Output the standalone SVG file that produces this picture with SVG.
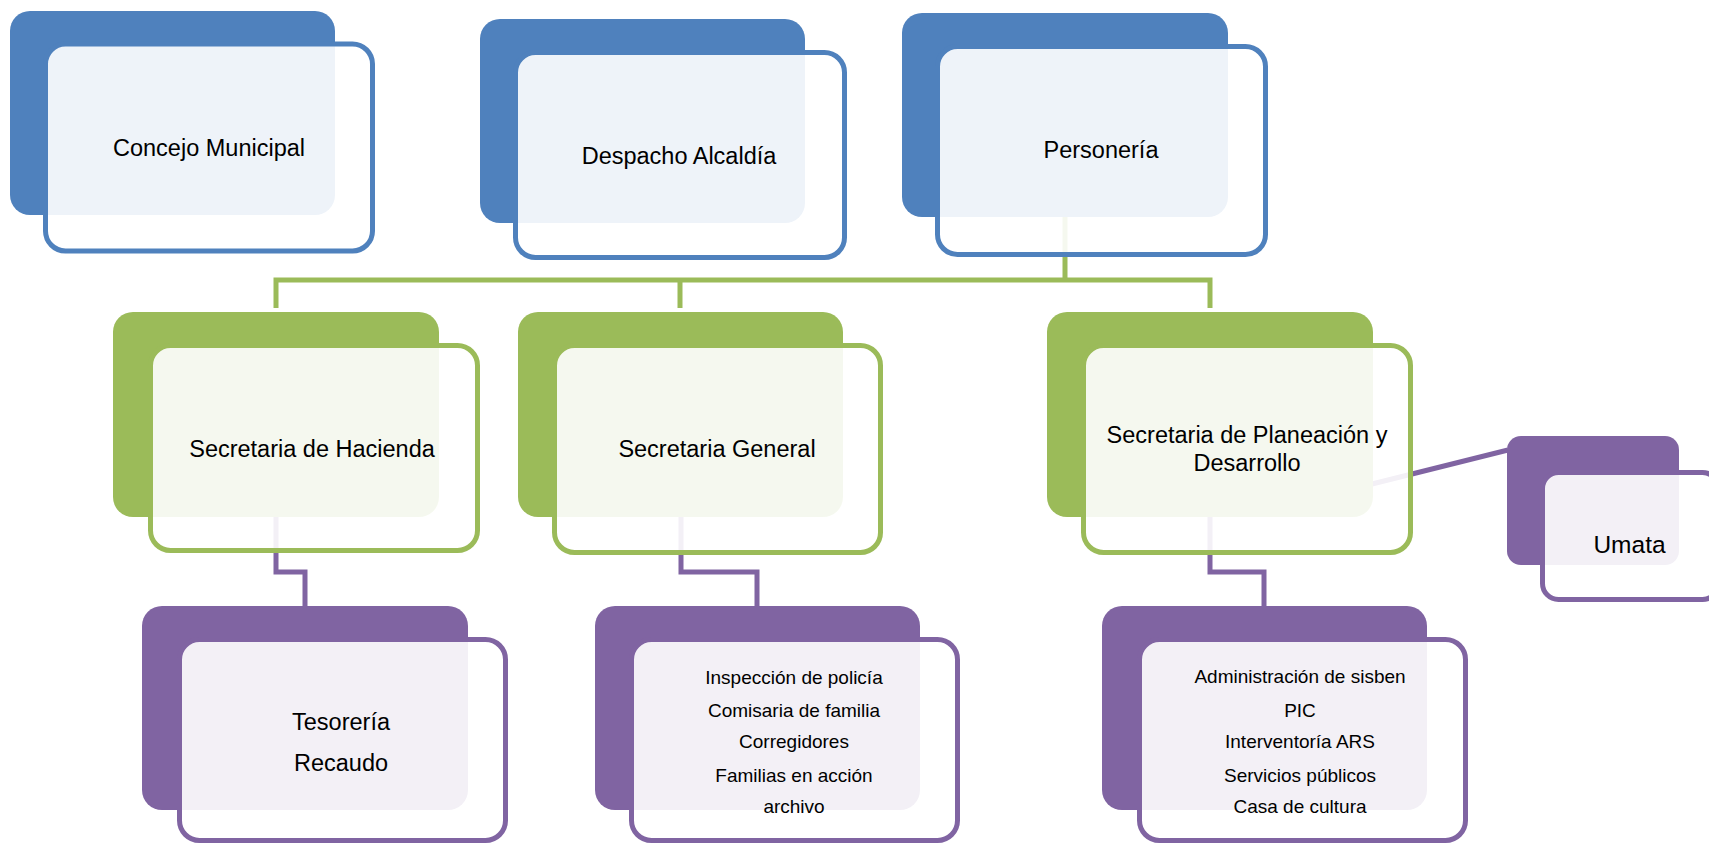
<svg xmlns="http://www.w3.org/2000/svg" width="1709" height="845" viewBox="0 0 1709 845">
<style>
.bb{fill:#4F81BD}.bg{fill:#9BBB59}.bp{fill:#8064A2}
.fr{fill:#FFFFFF;fill-opacity:0.9;stroke-width:5}
.fb{stroke:#4F81BD}.fg{stroke:#9BBB59}.fp{stroke:#8064A2}
.t{font-family:"Liberation Sans",Arial,sans-serif;font-size:23.5px;fill:#000;text-anchor:middle}
.s{font-family:"Liberation Sans",Arial,sans-serif;font-size:19px;fill:#000;text-anchor:middle}
.cg{fill:none;stroke:#9BBB59;stroke-width:5}
.cp{fill:none;stroke:#8064A2;stroke-width:5}
</style>
<rect width="1709" height="845" fill="#FFFFFF"/>
<g id="connectors">
<path class="cg" d="M276,308 V280 H1210 V308 M680,280 V308 M1065,215 V280"/>
<path class="cp" d="M276,515 V572 H305 V608"/>
<path class="cp" d="M681,515 V572 H757 V608"/>
<path class="cp" d="M1210,515 V572 H1264 V608"/>
<path class="cp" d="M1372,484 L1508,450"/>
</g>
<g id="concejo">
<rect class="bb" x="10" y="11" width="325" height="204" rx="20"/>
<rect class="fr fb" x="45.5" y="44" width="327" height="207" rx="20"/>
<text class="t" x="209" y="156">Concejo Municipal</text>
</g>
<g id="despacho">
<rect class="bb" x="480" y="19" width="325" height="204" rx="20"/>
<rect class="fr fb" x="515.5" y="52.5" width="329" height="205" rx="20"/>
<text class="t" x="679" y="164">Despacho Alcaldía</text>
</g>
<g id="personeria">
<rect class="bb" x="902" y="13" width="326" height="204" rx="20"/>
<rect class="fr fb" x="937.5" y="46.5" width="328" height="208" rx="20"/>
<text class="t" x="1101" y="158">Personería</text>
</g>
<g id="hacienda">
<rect class="bg" x="113" y="312" width="326" height="205" rx="20"/>
<rect class="fr fg" x="150.5" y="345.5" width="327" height="205" rx="20"/>
<text class="t" x="312" y="457">Secretaria de Hacienda</text>
</g>
<g id="general">
<rect class="bg" x="518" y="312" width="325" height="205" rx="20"/>
<rect class="fr fg" x="554.5" y="345.5" width="326" height="207" rx="20"/>
<text class="t" x="717" y="457">Secretaria General</text>
</g>
<g id="planeacion">
<rect class="bg" x="1047" y="312" width="326" height="205" rx="20"/>
<rect class="fr fg" x="1083.5" y="345.5" width="327" height="207" rx="20"/>
<text class="t" x="1247" y="443">Secretaria de Planeación y</text>
<text class="t" x="1247" y="471">Desarrollo</text>
</g>
<g id="umata">
<rect class="bp" x="1507" y="436" width="172" height="129" rx="14"/>
<rect class="fr fp" x="1542.5" y="472.5" width="176" height="127" rx="16"/>
<text class="t" x="1629.5" y="553" style="font-size:24.5px">Umata</text>
</g>
<g id="tesoreria">
<rect class="bp" x="142" y="606" width="326" height="204" rx="20"/>
<rect class="fr fp" x="179.5" y="639.5" width="326" height="201" rx="20"/>
<text class="t" x="341" y="730">Tesorería</text>
<text class="t" x="341" y="771">Recaudo</text>
</g>
<g id="general-dependencias">
<rect class="bp" x="595" y="606" width="325" height="204" rx="20"/>
<rect class="fr fp" x="631.5" y="639.5" width="326" height="201" rx="20"/>
<text class="s" x="794" y="684">Inspección de policía</text>
<text class="s" x="794" y="717">Comisaria de familia</text>
<text class="s" x="794" y="748">Corregidores</text>
<text class="s" x="794" y="782">Familias en acción</text>
<text class="s" x="794" y="813">archivo</text>
</g>
<g id="planeacion-dependencias">
<rect class="bp" x="1102" y="606" width="325" height="204" rx="20"/>
<rect class="fr fp" x="1139.5" y="639.5" width="326" height="201" rx="20"/>
<text class="s" x="1300" y="683">Administración de sisben</text>
<text class="s" x="1300" y="717">PIC</text>
<text class="s" x="1300" y="748">Interventoría ARS</text>
<text class="s" x="1300" y="782">Servicios públicos</text>
<text class="s" x="1300" y="813">Casa de cultura</text>
</g>
</svg>
